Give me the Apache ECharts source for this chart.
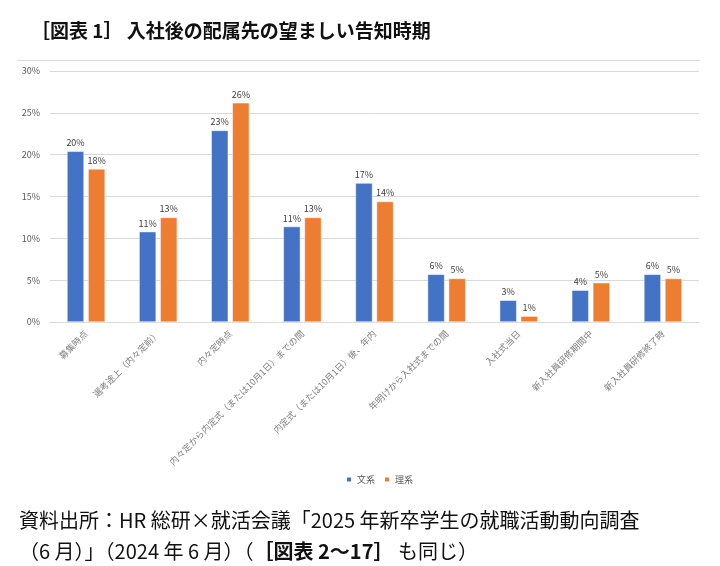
<!DOCTYPE html>
<html>
<head>
<meta charset="utf-8">
<script src="https://cdn.jsdelivr.net/npm/echarts@6/dist/echarts.min.js"></script>
<style>html,body{margin:0;padding:0;background:#fff;}#c{width:720px;height:566px;}</style>
</head>
<body>
<div id="c"></div>
<script>
const categories = [
  '募集時点',
  '選考途上（内々定前）',
  '内々定時点',
  '内々定から内定式（または10月1日）までの間',
  '内定式（または10月1日）後、年内',
  '年明けから入社式までの間',
  '入社式当日',
  '新入社員研修期間中',
  '新入社員研修終了時'
];
const bunkei = [20.4, 10.8, 22.9, 11.4, 16.6, 5.7, 2.6, 3.8, 5.7];
const rikei = [18.3, 12.5, 26.2, 12.5, 14.4, 5.2, 0.7, 4.7, 5.2];
const seriesNames = ['文系', '理系'];
const yTicks = { min: 0, max: 30, interval: 5 };
const titleText = '［図表 1］ 入社後の配属先の望ましい告知時期';
const sourceLine1 = '資料出所：HR 総研×就活会議「2025 年新卒学生の就職活動動向調査';
const sourceLine2a = '（6 月）」（2024 年 6 月）（';
const sourceLine2b = '［図表 2～17］';
const sourceLine2c = ' も同じ）';

const font = '"Noto Sans CJK JP", "Noto Sans", sans-serif';
const chart = echarts.init(document.getElementById('c'), null, { renderer: 'canvas' });
const labelStyle = {
  show: true, position: 'top', distance: 4,
  fontSize: 9, color: '#404040', fontFamily: font,
  formatter: p => Math.round(p.value) + '%'
};
chart.setOption({
  animation: false,
  textStyle: { fontFamily: font },
  title: [
    { text: titleText, left: 26, top: 16,
      textStyle: { fontSize: 19, fontWeight: 'bold', color: '#111', fontFamily: font } },
    { text: sourceLine1 + '\n{n|' + sourceLine2a + '}{b|' + sourceLine2b + '}{n|' + sourceLine2c + '}',
      left: 14, top: 500,
      textStyle: { fontSize: 20, fontWeight: 'normal', color: '#111', fontFamily: font, lineHeight: 31,
        rich: { n: { fontSize: 20, color: '#111', fontFamily: font, lineHeight: 31 },
                b: { fontSize: 20, color: '#111', fontWeight: 'bold', fontFamily: font, lineHeight: 31 } } } }
  ],
  graphic: [
    { type: 'line', shape: { x1: 17, y1: 60.5, x2: 700, y2: 60.5 }, style: { stroke: '#d9d9d9', lineWidth: 1 } }
  ],
  legend: {
    data: seriesNames, left: 340, top: 470, itemWidth: 6, itemHeight: 6, itemGap: 8,
    icon: 'rect', textStyle: { fontSize: 9, color: '#595959', fontFamily: font }
  },
  grid: { left: 50, right: 21, top: 71, bottom: 244, containLabel: false },
  xAxis: {
    type: 'category', data: categories,
    axisLine: { lineStyle: { color: '#d9d9d9' } },
    axisTick: { show: false },
    axisLabel: { rotate: 45, fontSize: 9, color: '#7f7f7f', margin: 10, interval: 0, fontFamily: font }
  },
  yAxis: {
    type: 'value', min: yTicks.min, max: yTicks.max, interval: yTicks.interval,
    axisLine: { show: false }, axisTick: { show: false },
    axisLabel: { formatter: '{value}%', fontSize: 9, color: '#595959', margin: 10, fontFamily: font },
    splitLine: { lineStyle: { color: '#d9d9d9' } }
  },
  series: [
    { name: seriesNames[0], type: 'bar', data: bunkei, barWidth: 17, barGap: '24%',
      itemStyle: { color: '#4472C4', borderColor: '#ffffff', borderWidth: 0.5 }, label: labelStyle },
    { name: seriesNames[1], type: 'bar', data: rikei, barWidth: 17,
      itemStyle: { color: '#ED7D31', borderColor: '#ffffff', borderWidth: 0.5 }, label: labelStyle }
  ]
});
</script>
</body>
</html>
